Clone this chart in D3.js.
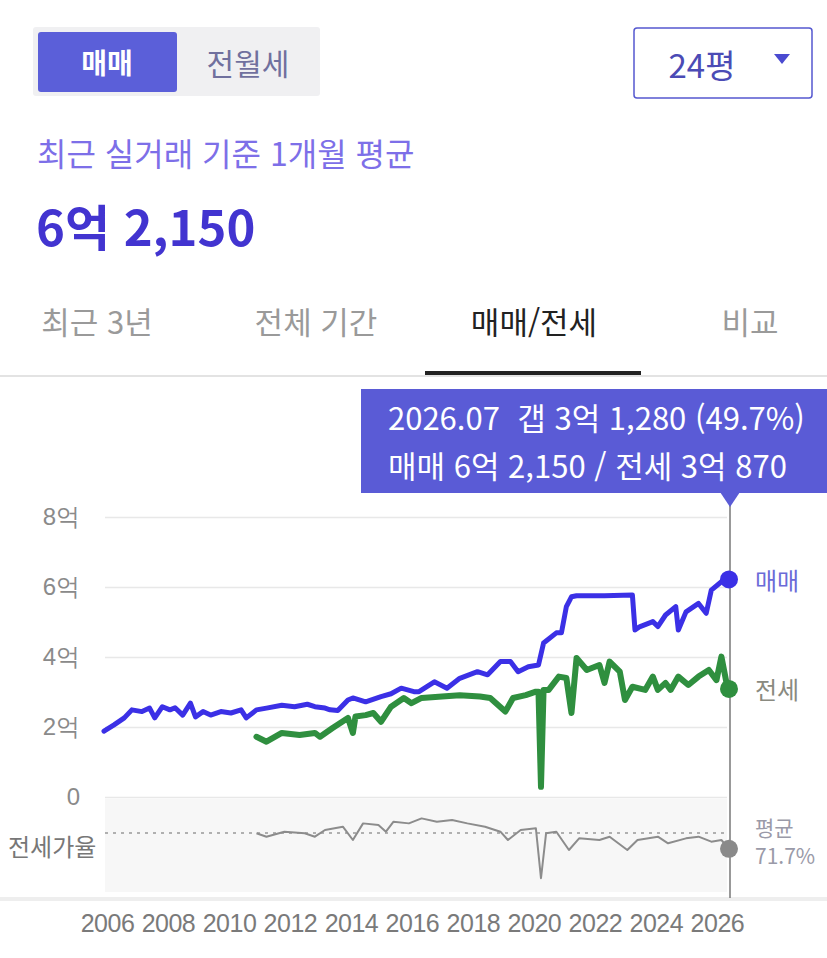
<!DOCTYPE html>
<html lang="ko">
<head>
  <meta charset="UTF-8">
  <style>
    html, body { margin: 0; padding: 0; background: #fff; }
    svg { display: block; font-family: "Noto Sans CJK KR", "Noto Sans", sans-serif; }
    .grid line { stroke: #e8e8e8; stroke-width: 1.5; }
    .grid text { fill: #8a8a8a; font-size: 24px; }
    .xaxis text { fill: #7a7a7a; font-size: 25px; letter-spacing: -0.5px; }
  </style>
  <script src="https://d3js.org/d3.v7.min.js"></script>
</head>
<body>
  <script>
    // 매매 (sale price, 억)
    const saleDates = ["2006.01","2006.05","2006.09","2006.12","2007.04","2007.07","2007.09","2007.12",
      "2008.03","2008.05","2008.08","2008.11","2009.01","2009.04","2009.07","2009.11","2010.03","2010.07",
      "2010.09","2011.01","2011.05","2011.11","2012.04","2012.09","2012.12","2013.04","2013.06","2013.09",
      "2014.01","2014.03","2014.08","2015.02","2015.06","2015.10","2016.03","2016.05","2016.11","2017.04",
      "2017.09","2018.04","2018.08","2019.01","2019.05","2019.08","2019.12","2020.04","2020.06","2020.11",
      "2021.01","2021.03","2021.05","2021.07","2022.06","2023.05","2023.06","2023.08","2024.01","2024.03",
      "2024.06","2024.10","2024.11","2025.02","2025.07","2025.10","2025.12","2026.04","2026.07"];
    const saleValues = [1.88,2.06,2.26,2.49,2.44,2.54,2.26,2.58,
      2.49,2.55,2.34,2.68,2.29,2.44,2.34,2.44,2.40,2.49,
      2.26,2.49,2.54,2.62,2.58,2.65,2.58,2.54,2.49,2.47,
      2.77,2.83,2.72,2.87,2.95,3.11,3.01,3.01,3.29,3.11,
      3.39,3.58,3.49,3.87,3.87,3.58,3.72,3.77,4.40,4.69,
      4.69,5.44,5.72,5.75,5.75,5.77,4.77,4.87,5.01,4.87,
      5.20,5.44,4.77,5.29,5.53,5.25,5.91,6.15,6.215];

    // 전세 (jeonse deposit, 억)
    const jeonseDates = ["2011.01","2011.05","2011.11","2012.06","2012.12","2013.02","2013.07","2014.01",
      "2014.03","2014.04","2014.08","2014.11","2015.02","2015.06","2015.11","2016.02","2016.06","2017.02",
      "2017.09","2018.05","2018.09","2019.03","2019.06","2019.11","2020.03","2020.04","2020.05","2020.06",
      "2020.08","2020.12","2021.03","2021.05","2021.07","2021.11","2022.04","2022.06","2022.08","2022.12",
      "2023.02","2023.05","2023.10","2024.01","2024.03","2024.06","2024.08","2024.11","2025.03","2025.07",
      "2025.11","2026.02","2026.04","2026.06","2026.07"];
    const jeonseValues = [1.72,1.58,1.83,1.77,1.83,1.72,1.97,2.26,
      1.83,2.30,2.34,2.40,2.15,2.58,2.83,2.68,2.83,2.87,
      2.91,2.87,2.83,2.44,2.83,2.91,3.01,3.01,0.29,3.06,
      3.06,3.44,3.40,2.40,3.97,3.63,3.77,3.26,3.87,3.58,
      2.77,3.15,3.06,3.44,3.06,3.26,3.06,3.44,3.20,3.44,
      3.63,3.34,4.01,3.26,3.087];

    // 전세가율 (%)
    const ratioDates = ["2011.01","2011.05","2011.12","2012.08","2012.12","2013.04","2013.11","2014.03",
      "2014.07","2015.01","2015.04","2015.07","2016.01","2016.06","2016.12","2017.06","2017.12","2018.07",
      "2019.01","2019.04","2019.09","2020.03","2020.05","2020.07","2020.11","2021.04","2021.08","2022.04",
      "2022.08","2023.03","2023.07","2024.03","2024.07","2025.02","2025.07","2025.12","2026.04","2026.07"];
    const ratioValues = [71.2,66.5,73.4,71.2,66.5,75.8,80.3,61.9,
      84.9,82.7,73.4,87.2,84.9,91.8,87.2,89.6,84.9,80.3,
      73.4,61.9,75.8,78.0,9.0,71.2,73.4,48.1,64.2,61.9,
      66.5,48.1,61.9,66.5,57.3,64.2,66.5,59.6,61.9,49.7];
    const avgRatio = 71.7;

    const yTicks = [0, 2, 4, 6, 8];
    const yearTicks = [2006, 2008, 2010, 2012, 2014, 2016, 2018, 2020, 2022, 2024, 2026];
    const tabs = ["최근 3년", "전체 기간", "매매/전세", "비교"];

    const parse = d3.timeParse("%Y.%m");
    const sale = saleDates.map((d, i) => ({ date: parse(d), value: saleValues[i] }));
    const jeonse = jeonseDates.map((d, i) => ({ date: parse(d), value: jeonseValues[i] }));
    const ratio = ratioDates.map((d, i) => ({ date: parse(d), value: ratioValues[i] }));
    const lastSale = sale[sale.length - 1];
    const lastJeonse = jeonse[jeonse.length - 1];
    const lastRatio = ratio[ratio.length - 1];

    // 6.215 -> "6억 2,150"
    function won(v) {
      const eok = Math.floor(v + 1e-9);
      const man = Math.round((v - eok) * 10000);
      return man ? eok + "억 " + d3.format(",")(man) : eok + "억";
    }

    const svg = d3.select("body").append("svg")
      .attr("width", 827)
      .attr("height", 958);

    // segmented buttons
    svg.append("rect").attr("x", 33).attr("y", 27).attr("width", 287).attr("height", 69)
      .attr("rx", 3).attr("fill", "#f0f0f2");
    svg.append("rect").attr("x", 38).attr("y", 32).attr("width", 139).attr("height", 60)
      .attr("rx", 3).attr("fill", "#5b5fd9");
    svg.append("text").attr("x", 107).attr("y", 62).attr("text-anchor", "middle")
      .attr("dominant-baseline", "central").attr("fill", "#fff").attr("font-size", 28)
      .attr("font-weight", 700).text("매매");
    svg.append("text").attr("x", 248).attr("y", 62).attr("text-anchor", "middle")
      .attr("dominant-baseline", "central").attr("fill", "#70709e").attr("font-size", 30)
      .text("전월세");

    // dropdown
    svg.append("rect").attr("x", 634).attr("y", 28).attr("width", 178).attr("height", 70)
      .attr("rx", 3).attr("fill", "#fff").attr("stroke", "#5558d0").attr("stroke-width", 1.5);
    svg.append("text").attr("x", 702).attr("y", 64).attr("text-anchor", "middle")
      .attr("dominant-baseline", "central").attr("fill", "#4b4bb5").attr("font-size", 33)
      .text("24평");
    svg.append("path").attr("d", "M774,54L790,54L782,64Z").attr("fill", "#4a4ad0");

    // summary
    svg.append("text").attr("x", 37).attr("y", 152).attr("dominant-baseline", "central")
      .attr("fill", "#7d6fe8").attr("font-size", 32).text("최근 실거래 기준 1개월 평균");
    svg.append("text").attr("x", 36).attr("y", 224).attr("dominant-baseline", "central")
      .attr("fill", "#4234d0").attr("font-size", 49).attr("font-weight", 700)
      .text(won(lastSale.value));

    // tabs
    const tabX = [97, 316, 534, 750];
    svg.selectAll(".tab").data(tabs).enter().append("text")
      .attr("class", "tab")
      .attr("x", (d, i) => tabX[i]).attr("y", 320)
      .attr("text-anchor", "middle").attr("dominant-baseline", "central")
      .attr("font-size", 31)
      .attr("fill", (d, i) => i === 2 ? "#222" : "#9a9a9a")
      .text(d => d);
    svg.append("rect").attr("x", 0).attr("y", 375).attr("width", 827).attr("height", 2).attr("fill", "#e3e3e3");
    svg.append("rect").attr("x", 425).attr("y", 371).attr("width", 216).attr("height", 4).attr("fill", "#222");

    // scales
    const x = d3.scaleTime().domain([parse("2006.01"), parse("2026.07")]).range([104, 729]);
    const y = d3.scaleLinear().domain([0, 8]).range([797, 517]);
    const yr = d3.scaleLinear().domain([-10, 120]).range([892, 798]);

    // grid + y labels
    svg.append("g").attr("class", "grid")
      .attr("transform", "translate(105,0)")
      .call(d3.axisLeft(y).tickValues(yTicks).tickSize(-622).tickPadding(25)
        .tickFormat(d => d === 0 ? "0" : d + "억"))
      .call(g => g.select(".domain").remove());

    // ratio panel
    svg.append("rect").attr("x", 105).attr("y", 799).attr("width", 622).attr("height", 93).attr("fill", "#f7f7f7");
    svg.append("line").attr("x1", 105).attr("x2", 727).attr("y1", yr(avgRatio)).attr("y2", yr(avgRatio))
      .attr("stroke", "#999").attr("stroke-width", 1.5).attr("stroke-dasharray", "3,5");
    svg.append("text").attr("x", 8).attr("y", 845).attr("dominant-baseline", "central")
      .attr("fill", "#777").attr("font-size", 24).text("전세가율");
    svg.append("path").datum(ratio)
      .attr("fill", "none").attr("stroke", "#8c8c8c").attr("stroke-width", 2)
      .attr("stroke-linejoin", "round")
      .attr("d", d3.line().x(d => x(d.date)).y(d => yr(d.value)));

    svg.append("rect").attr("x", 0).attr("y", 897).attr("width", 827).attr("height", 4).attr("fill", "#eeeeee");

    // x axis labels
    svg.append("g").attr("class", "xaxis")
      .attr("transform", "translate(3,918)")
      .call(d3.axisBottom(x).tickValues(yearTicks.map(t => new Date(t, 0, 1)))
        .tickSize(0).tickPadding(0).tickFormat(d3.timeFormat("%Y")))
      .call(g => g.select(".domain").remove())
      .call(g => g.selectAll("text").attr("dy", "0.55em"));

    // hover line
    svg.append("line").attr("x1", 730).attr("x2", 730).attr("y1", 500).attr("y2", 898)
      .attr("stroke", "#777").attr("stroke-width", 1.5);

    // main lines
    const line = d3.line().x(d => x(d.date)).y(d => y(d.value));
    svg.append("path").datum(jeonse)
      .attr("fill", "none").attr("stroke", "#2f8f3f").attr("stroke-width", 6)
      .attr("stroke-linejoin", "round").attr("stroke-linecap", "round")
      .attr("d", line);
    svg.append("path").datum(sale)
      .attr("fill", "none").attr("stroke", "#3b30e6").attr("stroke-width", 5)
      .attr("stroke-linejoin", "round").attr("stroke-linecap", "round")
      .attr("d", line);

    // end dots + labels
    svg.append("circle").attr("cx", x(lastSale.date)).attr("cy", y(lastSale.value)).attr("r", 9).attr("fill", "#3b30e6");
    svg.append("circle").attr("cx", x(lastJeonse.date)).attr("cy", y(lastJeonse.value)).attr("r", 9).attr("fill", "#2f8f3f");
    svg.append("circle").attr("cx", x(lastRatio.date)).attr("cy", yr(lastRatio.value)).attr("r", 9).attr("fill", "#8a8a8a");
    svg.append("text").attr("x", 755).attr("y", y(lastSale.value)).attr("dominant-baseline", "central")
      .attr("fill", "#6b6bd8").attr("font-size", 24).text("매매");
    svg.append("text").attr("x", 755).attr("y", y(lastJeonse.value)).attr("dominant-baseline", "central")
      .attr("fill", "#8a8a80").attr("font-size", 24).text("전세");
    svg.append("text").attr("x", 755).attr("y", 827).attr("dominant-baseline", "central")
      .attr("fill", "#9a9aa8").attr("font-size", 21).text("평균");
    svg.append("text").attr("x", 755).attr("y", 855).attr("dominant-baseline", "central")
      .attr("fill", "#9a9aa8").attr("font-size", 21).text(avgRatio + "%");

    // tooltip
    const gap = lastSale.value - lastJeonse.value;
    const pct = d3.format(".1f")(lastJeonse.value / lastSale.value * 100);
    svg.append("rect").attr("x", 361).attr("y", 389).attr("width", 466).attr("height", 104).attr("fill", "#5a5bd6");
    svg.append("path").attr("d", "M720,492L740,492L730,507Z").attr("fill", "#5a5bd6");
    svg.append("text").attr("x", 388).attr("y", 416).attr("dominant-baseline", "central")
      .attr("fill", "#fff").attr("font-size", 31).style("white-space", "pre")
      .text(d3.timeFormat("%Y.%m")(lastSale.date) + "  갭 " + won(gap) + " (" + pct + "%)");
    svg.append("text").attr("x", 388).attr("y", 464).attr("dominant-baseline", "central")
      .attr("fill", "#fff").attr("font-size", 31)
      .text("매매 " + won(lastSale.value) + " / 전세 " + won(lastJeonse.value));
  </script>
</body>
</html>
